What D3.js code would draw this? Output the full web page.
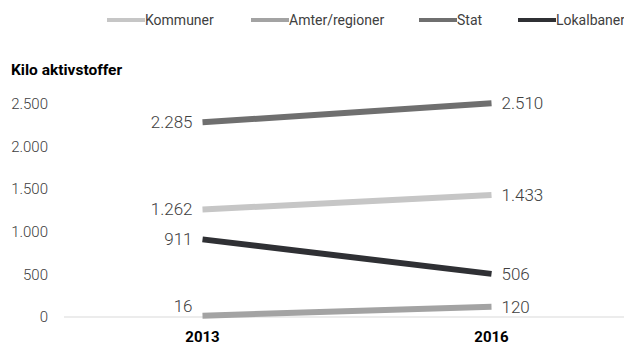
<!DOCTYPE html>
<html>
<head>
<meta charset="utf-8">
<script src="https://cdn.jsdelivr.net/npm/d3@7"></script>
<style>
  html, body { margin: 0; padding: 0; background: #fff; }
  svg { display: block; font-family: Roboto, "Noto Sans", sans-serif; }
</style>
</head>
<body>
<svg id="chart" width="624" height="345"></svg>
<script>
// data
const years = ["2013", "2016"];
const seriesNames = ["Kommuner", "Amter/regioner", "Stat", "Lokalbaner"];
const kommuner = [1262, 1433];
const amter = [16, 120];
const stat = [2285, 2510];
const lokalbaner = [911, 506];
const yTicks = [0, 500, 1000, 1500, 2000, 2500];

const colors = ["#c6c6c6", "#a3a3a3", "#6f6f6f", "#2f3034"];
const series = [kommuner, amter, stat, lokalbaner].map((vals, i) => ({
    name: seriesNames[i], color: colors[i], values: vals
}));

const W = 624, H = 345;
const svg = d3.select("#chart");

const x = d3.scaleBand().domain(years).range([58, 636]);
const xc = d => x(d) + x.bandwidth() / 2;
const y = d3.scaleLinear().domain([0, 2500]).range([317, 104]);

const fmt = d3.formatLocale({ decimal: ",", thousands: ".", grouping: [3], currency: ["", ""] }).format(",");

// baseline
svg.append("line")
    .attr("x1", 64).attr("x2", W)
    .attr("y1", y(0)).attr("y2", y(0))
    .attr("stroke", "#d9d9d9").attr("stroke-width", 1);

// y axis labels
svg.append("g").selectAll("text").data(yTicks).join("text")
    .attr("x", 48).attr("y", d => y(d)).attr("dy", "0.35em")
    .attr("text-anchor", "end")
    .attr("font-size", 15).attr("font-weight", 300).attr("fill", "#404040")
    .text(d => fmt(d));

// axis title
svg.append("text")
    .attr("x", 11).attr("y", 70).attr("dy", "0.35em")
    .attr("font-size", 15.5).attr("font-weight", 700).attr("fill", "#000")
    .text("Kilo aktivstoffer");

// x labels
svg.append("g").selectAll("text").data(years).join("text")
    .attr("x", d => xc(d)).attr("y", 337).attr("dy", "0.35em")
    .attr("text-anchor", "middle")
    .attr("font-size", 15).attr("font-weight", 700).attr("fill", "#000")
    .text(d => d);

// lines
const line = d3.line().x((d, i) => xc(years[i])).y(d => y(d));
svg.append("g").selectAll("path").data(series).join("path")
    .attr("d", d => line(d.values))
    .attr("fill", "none")
    .attr("stroke", d => d.color)
    .attr("stroke-width", 6);

// data labels
series.forEach(s => {
    s.values.forEach((v, i) => {
        const left = i === 0;
        svg.append("text")
            .attr("x", xc(years[i]) + (left ? -10 : 10))
            .attr("y", y(v) - (v < 50 ? 10 : 0))
            .attr("dy", "0.35em")
            .attr("text-anchor", left ? "end" : "start")
            .attr("font-size", 17).attr("font-weight", 300).attr("fill", "#404040")
            .text(fmt(v));
    });
});

// legend
const legendX = [107, 251, 419, 518];
const lg = svg.append("g").selectAll("g").data(series).join("g")
    .attr("transform", (d, i) => `translate(${legendX[i]},20)`);
lg.append("rect")
    .attr("x", 0).attr("y", -2).attr("width", 38).attr("height", 4)
    .attr("fill", d => d.color);
lg.append("text")
    .attr("x", 38).attr("dy", "0.35em")
    .attr("font-size", 14).attr("fill", "#404040")
    .text(d => d.name);
</script>
</body>
</html>
